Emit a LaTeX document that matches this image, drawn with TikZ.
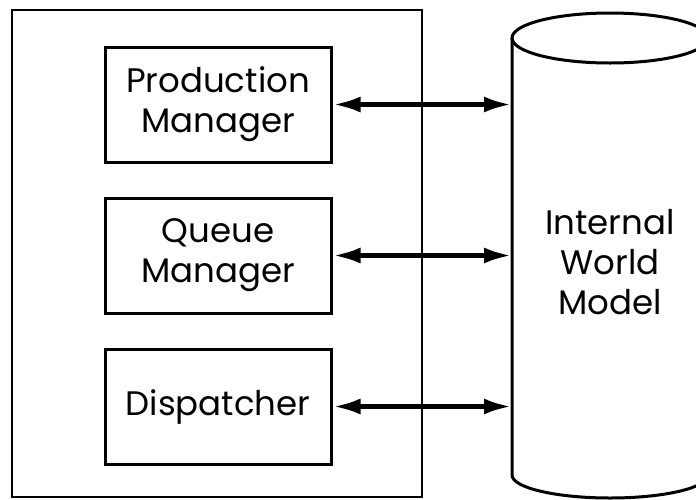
\documentclass[tikz,border=0pt]{standalone}
\usepackage{fontspec}
\setmainfont{Poppins}
\usetikzlibrary{arrows.meta, positioning}

\begin{document}
\begin{tikzpicture}[x=0.5pt, y=-0.5pt, node distance=75.5pt, on grid,
        module/.style={draw, line width=1.5pt, minimum width=113pt, minimum height=57.5pt,
                align=center, font=\fontsize{17}{20}\selectfont},
        link/.style={{Latex[length=14pt,width=8pt]}-{Latex[length=14pt,width=8pt]}, line width=2.5pt},
        cyl/.style={line width=1.5pt}]
                \useasboundingbox (0,0) rectangle (696,499);
                \draw[line width=1pt] (12,10) rectangle (422,497);
                \node[module] (prod_M) at (218,104.5) {Production\\Manager};
                \node[module] (queue_M) [below=of prod_M] {Queue\\Manager};
                \node[module] (disp) [below=of queue_M] {Dispatcher};
                % world model store
                \draw[cyl] (512,38) -- (512,475) arc[start angle=180, end angle=0, x radius=98, y radius=23] -- (708,38);
                \draw[cyl] (610,38) ellipse[x radius=98, y radius=25];
                \coordinate (iwm_side) at (512,256);
                \node[align=center, font=\fontsize{17}{20}\selectfont] (iwm) at (610,262) {Internal\\World\\Model};
                \draw[link] (prod_M.east) -- (prod_M.east -| iwm_side);
                \draw[link] (queue_M.east) -- (queue_M.east -| iwm_side);
                \draw[link] (disp.east) -- (disp.east -| iwm_side);
\end{tikzpicture}
\end{document}
